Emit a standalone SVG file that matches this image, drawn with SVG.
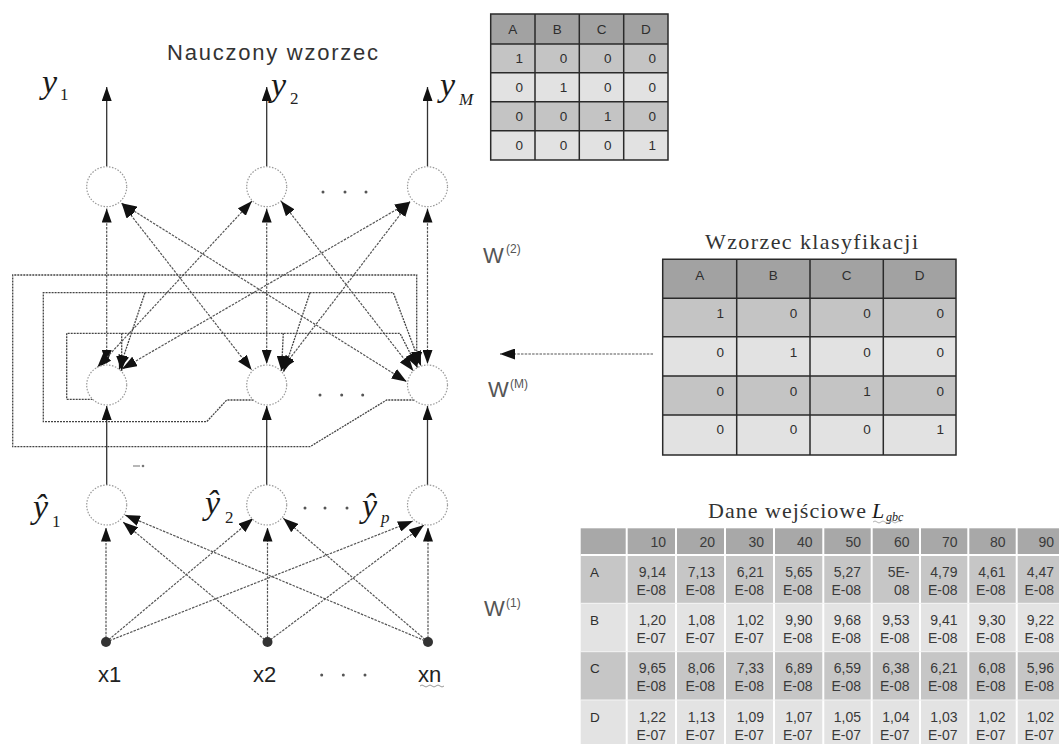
<svg xmlns="http://www.w3.org/2000/svg" width="1059" height="744" viewBox="0 0 1059 744">
  <defs>
    <marker id="ah" viewBox="0 0 14 10" refX="14" refY="5" markerWidth="14" markerHeight="10" markerUnits="userSpaceOnUse" orient="auto-start-reverse">
      <path d="M0,0 L14,5 L0,10 z" fill="#111"/>
    </marker>
    <marker id="ahL" viewBox="0 0 15 11" refX="15" refY="5.5" markerWidth="15" markerHeight="11" markerUnits="userSpaceOnUse" orient="auto-start-reverse">
      <path d="M0,0 L15,5.5 L0,11 z" fill="#111"/>
    </marker>
    <style>
      .sv { stroke: #333; stroke-width: 1.3; fill: none; }
      .ln { stroke: #555; stroke-width: 1.2; fill: none; stroke-dasharray: 2.5 1.2; }
      .lp { stroke: #444; stroke-width: 1.3; fill: none; stroke-dasharray: 2 1; }
      .neuron { fill: #fff; stroke: #999; stroke-width: 1.2; stroke-dasharray: 1.5 1.5; }
      .dot { fill: #555; }
      .in { fill: #333; }
      .sans { font-family: "Liberation Sans", Arial, sans-serif; }
      .serif { font-family: "Liberation Serif", "Times New Roman", serif; }
      .var { font-family: "Liberation Serif", "Times New Roman", serif; font-style: italic; fill: #1a1a1a; }
      .wl { font-family: "Liberation Sans", Arial, sans-serif; fill: #555; }
      .grid { stroke: #2a2a2a; stroke-width: 1.5; fill: none; }
      .hdr { fill: #a2a2a2; }
      .mid { fill: #c4c4c4; }
      .lite { fill: #e2e2e2; }
      .tc { font-family: "Liberation Sans", Arial, sans-serif; font-size: 13.5px; fill: #2e2e2e; }
      .bt { font-family: "Liberation Sans", Arial, sans-serif; font-size: 14px; fill: #3a3a3a; text-anchor: end; }
    </style>
  </defs>

  <rect width="1059" height="744" fill="#fff"/>

  <!-- connectors -->
  <g id="connectors">
    <!-- outputs y1..yM -->
    <path class="sv" d="M106.7,166 V87" marker-end="url(#ah)"/>
    <path class="sv" d="M266.7,166 V87" marker-end="url(#ah)"/>
    <path class="sv" d="M427.5,166 V87" marker-end="url(#ah)"/>

    <!-- W(2): vertical links between MAXNET and output layer -->
    <path class="ln" d="M106.7,208.5 V364" marker-start="url(#ah)" marker-end="url(#ah)"/>
    <path class="ln" d="M266.7,208.5 V364" marker-start="url(#ah)" marker-end="url(#ah)"/>
    <path class="ln" d="M427.5,208.5 V364" marker-start="url(#ah)" marker-end="url(#ah)"/>

    <!-- W(2): crossed links -->
    <path class="ln" d="M121.7,203.3 L251.7,370" marker-start="url(#ahL)" marker-end="url(#ahL)"/>
    <path class="ln" d="M121.7,203.3 L406.7,381.7" marker-start="url(#ahL)" marker-end="url(#ahL)"/>
    <path class="ln" d="M252,201 L97,368" marker-start="url(#ahL)" marker-end="url(#ahL)"/>
    <path class="ln" d="M281,201 L413.4,370.9" marker-start="url(#ahL)" marker-end="url(#ahL)"/>
    <path class="ln" d="M410,201.7 L122,369" marker-start="url(#ahL)" marker-end="url(#ahL)"/>
    <path class="ln" d="M410,201.7 L281,370" marker-start="url(#ahL)" marker-end="url(#ahL)"/>

    <!-- W(M): feedback loops of the MAXNET layer -->
    <path class="lp" d="M92.7,399.3 H66.7 V333.3 H400 L417.5,367.7" marker-end="url(#ahL)"/>
    <path class="lp" d="M121.7,333.3 V371" marker-end="url(#ahL)"/>
    <path class="lp" d="M283.3,333.3 L281.5,371" marker-end="url(#ahL)"/>

    <path class="lp" d="M253.5,400 H226.7 L206.7,421.7 H43.3 V292.7 H393.3 L421,366" marker-end="url(#ahL)"/>
    <path class="lp" d="M145,292.7 L119,370" marker-end="url(#ahL)"/>
    <path class="lp" d="M310,292.7 L283.5,372" marker-end="url(#ahL)"/>

    <path class="lp" d="M414.3,400 H386.7 L310,446.7 H12.7 V275 H416.7 V367" marker-end="url(#ahL)"/>

    <!-- hidden layer to MAXNET -->
    <path class="sv" d="M106.7,485 V406" marker-end="url(#ah)"/>
    <path class="sv" d="M266.7,485 V406" marker-end="url(#ah)"/>
    <path class="sv" d="M427.5,485 V406" marker-end="url(#ah)"/>

    <!-- W(1): inputs to hidden layer -->
    <path class="ln" d="M106,638 V527.5" marker-end="url(#ah)"/>
    <path class="ln" d="M267.5,638 V527.5" marker-end="url(#ah)"/>
    <path class="ln" d="M428,638 V527.5" marker-end="url(#ah)"/>
    <path class="ln" d="M106,642 L253.3,518.3" marker-end="url(#ahL)"/>
    <path class="ln" d="M106,642 L413,521" marker-end="url(#ahL)"/>
    <path class="ln" d="M267.5,642 L123,522" marker-end="url(#ahL)"/>
    <path class="ln" d="M267.5,642 L424,525" marker-end="url(#ahL)"/>
    <path class="ln" d="M428,642 L125,515" marker-end="url(#ahL)"/>
    <path class="ln" d="M428,642 L283.3,518.3" marker-end="url(#ahL)"/>

    <!-- class pattern fed into W(M) -->
    <path class="ln" d="M653,354 H500" marker-end="url(#ahL)"/>
  </g>

  <!-- output layer -->
  <g id="out1"><circle class="neuron" cx="106.7" cy="186.7" r="20"/></g>
  <g id="out2"><circle class="neuron" cx="266.7" cy="186.7" r="20"/></g>
  <g id="outM"><circle class="neuron" cx="427.5" cy="186.7" r="20"/></g>
  <g id="out-dots"><circle class="dot" cx="323" cy="192" r="1.5"/><circle class="dot" cx="345" cy="192" r="1.5"/><circle class="dot" cx="366" cy="192" r="1.5"/></g>

  <!-- MAXNET layer -->
  <g id="max1"><circle class="neuron" cx="106.7" cy="385" r="20"/></g>
  <g id="max2"><circle class="neuron" cx="266.7" cy="385" r="20"/></g>
  <g id="maxM"><circle class="neuron" cx="427.5" cy="385" r="20"/></g>
  <g id="max-dots"><circle class="dot" cx="320" cy="395" r="1.5"/><circle class="dot" cx="341.7" cy="395" r="1.5"/><circle class="dot" cx="362.7" cy="395" r="1.5"/></g>

  <!-- hidden (Hamming) layer -->
  <g id="hid1"><circle class="neuron" cx="106.7" cy="505" r="20"/></g>
  <g id="hid2"><circle class="neuron" cx="266.7" cy="505" r="20"/></g>
  <g id="hidP"><circle class="neuron" cx="427.5" cy="505" r="20"/></g>
  <g id="hid-dots"><circle class="dot" cx="305" cy="508" r="1.5"/><circle class="dot" cx="325" cy="508" r="1.5"/><circle class="dot" cx="347" cy="508" r="1.5"/></g>
  <path d="M133,466 h7" stroke="#888" stroke-width="1.2"/>
  <circle cx="143" cy="466" r="1.3" fill="#777"/>

  <!-- input nodes -->
  <g id="in1"><circle class="in" cx="106" cy="642" r="5"/><text class="sans" x="98" y="682" font-size="22" fill="#222">x1</text></g>
  <g id="in2"><circle class="in" cx="267.5" cy="642" r="5"/><text class="sans" x="253" y="682" font-size="22" fill="#222">x2</text></g>
  <g id="inN"><circle class="in" cx="428" cy="642" r="5"/><text class="sans" x="418" y="682" font-size="22" fill="#222">xn</text>
    <path d="M420,686 q2,-2 4,0 t4,0 t4,0 t4,0 t4,0 t4,0" stroke="#999" stroke-width="1" fill="none"/></g>
  <g id="in-dots"><circle class="dot" cx="321.7" cy="675" r="1.5"/><circle class="dot" cx="343.3" cy="675" r="1.5"/><circle class="dot" cx="365" cy="675" r="1.5"/></g>

  <!-- variable labels -->
  <g id="labels-out">
    <text class="var" x="42" y="93" font-size="34">y</text><text class="serif" x="60" y="100" font-size="17" fill="#222">1</text>
    <text class="var" x="271" y="96" font-size="34">y</text><text class="serif" x="290" y="104" font-size="17" fill="#222">2</text>
    <text class="var" x="440" y="96" font-size="34">y</text><text class="var" x="459" y="105" font-size="17">M</text>
  </g>
  <g id="labels-hid">
    <text class="var" x="33" y="518" font-size="34">ŷ</text><text class="serif" x="52" y="527" font-size="17" fill="#222">1</text>
    <text class="var" x="205" y="514" font-size="34">ŷ</text><text class="serif" x="225" y="523" font-size="17" fill="#222">2</text>
    <text class="var" x="362" y="517" font-size="34">ŷ</text><text class="var" x="381" y="523" font-size="17">p</text>
  </g>

  <!-- weight labels -->
  <g id="w2"><text class="wl" x="483" y="263" font-size="22">W</text><text class="wl" x="506" y="253" font-size="12">(2)</text></g>
  <g id="wM"><text class="wl" x="488" y="397" font-size="22">W</text><text class="wl" x="510" y="388" font-size="12">(M)</text></g>
  <g id="w1"><text class="wl" x="484" y="616" font-size="22">W</text><text class="wl" x="506" y="607" font-size="12">(1)</text></g>

  <!-- learned pattern -->
  <g id="learned">
    <text class="sans" x="167" y="60" font-size="22" fill="#333" textLength="211" lengthAdjust="spacing">Nauczony wzorzec</text>
    <rect class="hdr" x="490.7" y="14" width="177.3" height="30"/>
    <rect class="mid" x="490.7" y="44" width="177.3" height="28.7"/>
    <rect class="lite" x="490.7" y="72.7" width="177.3" height="29"/>
    <rect class="mid" x="490.7" y="101.7" width="177.3" height="29"/>
    <rect class="lite" x="490.7" y="130.7" width="177.3" height="29.3"/>
    <path class="grid" d="M490.7,14 H668 V160 H490.7 Z M535,14 V160 M579.3,14 V160 M623.7,14 V160 M490.7,44 H668 M490.7,72.7 H668 M490.7,101.7 H668 M490.7,130.7 H668"/>
    <g class="tc" text-anchor="middle">
      <text x="512.8" y="34">A</text><text x="557.2" y="34">B</text><text x="601.5" y="34">C</text><text x="645.8" y="34">D</text>
    </g>
    <g class="tc" text-anchor="end">
      <text x="523" y="63">1</text><text x="567.3" y="63">0</text><text x="611.6" y="63">0</text><text x="656" y="63">0</text>
      <text x="523" y="92">0</text><text x="567.3" y="92">1</text><text x="611.6" y="92">0</text><text x="656" y="92">0</text>
      <text x="523" y="121">0</text><text x="567.3" y="121">0</text><text x="611.6" y="121">1</text><text x="656" y="121">0</text>
      <text x="523" y="150">0</text><text x="567.3" y="150">0</text><text x="611.6" y="150">0</text><text x="656" y="150">1</text>
    </g>
  </g>

  <!-- classification pattern -->
  <g id="classpattern">
    <text class="serif" x="705" y="249" font-size="22" fill="#333" textLength="213" lengthAdjust="spacing">Wzorzec klasyfikacji</text>
    <rect class="hdr" x="662.7" y="259.3" width="293.3" height="39"/>
    <rect class="mid" x="662.7" y="298.3" width="293.3" height="38.4"/>
    <rect class="lite" x="662.7" y="336.7" width="293.3" height="39.3"/>
    <rect class="mid" x="662.7" y="376" width="293.3" height="39"/>
    <rect class="lite" x="662.7" y="415" width="293.3" height="40"/>
    <path class="grid" d="M662.7,259.3 H956 V455 H662.7 Z M736.7,259.3 V455 M810,259.3 V455 M883.3,259.3 V455 M662.7,298.3 H956 M662.7,336.7 H956 M662.7,376 H956 M662.7,415 H956"/>
    <g class="tc" text-anchor="middle">
      <text x="699.7" y="280">A</text><text x="773.3" y="280">B</text><text x="846.7" y="280">C</text><text x="919.7" y="280">D</text>
    </g>
    <g class="tc" text-anchor="end">
      <text x="724" y="318">1</text><text x="797.3" y="318">0</text><text x="870.7" y="318">0</text><text x="944" y="318">0</text>
      <text x="724" y="356.5">0</text><text x="797.3" y="356.5">1</text><text x="870.7" y="356.5">0</text><text x="944" y="356.5">0</text>
      <text x="724" y="396">0</text><text x="797.3" y="396">0</text><text x="870.7" y="396">1</text><text x="944" y="396">0</text>
      <text x="724" y="434">0</text><text x="797.3" y="434">0</text><text x="870.7" y="434">0</text><text x="944" y="434">1</text>
    </g>
  </g>

  <!-- input data -->
  <g id="inputdata">
    <text class="serif" x="708" y="518" font-size="22" fill="#333" textLength="158" lengthAdjust="spacing">Dane wejściowe</text>
    <text class="var" x="872" y="518" font-size="22" fill="#333">L</text>
    <text class="var" x="886" y="521" font-size="12" fill="#555">gbc</text>
    <path d="M873,522 q2,-2 4,0 t4,0 t4,0 t4,0 t4,0 t4,0 t4,0" stroke="#aaa" stroke-width="0.9" fill="none"/>

    <rect x="580.7" y="528.3" width="485" height="26.7" fill="#a8a8a8"/>
    <rect x="580.7" y="555" width="485" height="48.3" fill="#c6c6c6"/>
    <rect x="580.7" y="603.3" width="485" height="48.4" fill="#e3e3e3"/>
    <rect x="580.7" y="651.7" width="485" height="48.3" fill="#c6c6c6"/>
    <rect x="580.7" y="700" width="485" height="50" fill="#e3e3e3"/>
    <path d="M626.7,528 V750 M676,528 V750 M725,528 V750 M774,528 V750 M823.3,528 V750 M871.7,528 V750 M920,528 V750 M968.3,528 V750 M1016.7,528 V750 M580.7,555 H1066" stroke="#fff" stroke-width="2" fill="none"/>
    <path d="M580.7,603.3 H1066 M580.7,651.7 H1066 M580.7,700 H1066" stroke="#f4f4f4" stroke-width="1" fill="none"/>

    <g class="bt">
      <text x="666" y="547">10</text><text x="715" y="547">20</text><text x="764" y="547">30</text><text x="812.5" y="547">40</text><text x="861" y="547">50</text><text x="909.5" y="547">60</text><text x="957.5" y="547">70</text><text x="1005.5" y="547">80</text><text x="1054" y="547">90</text>

      <text x="666" y="577">9,14</text><text x="715" y="577">7,13</text><text x="764" y="577">6,21</text><text x="812.5" y="577">5,65</text><text x="861" y="577">5,27</text><text x="909.5" y="577">5E-</text><text x="957.5" y="577">4,79</text><text x="1005.5" y="577">4,61</text><text x="1054" y="577">4,47</text>
      <text x="666" y="595">E-08</text><text x="715" y="595">E-08</text><text x="764" y="595">E-08</text><text x="812.5" y="595">E-08</text><text x="861" y="595">E-08</text><text x="909.5" y="595">08</text><text x="957.5" y="595">E-08</text><text x="1005.5" y="595">E-08</text><text x="1054" y="595">E-08</text>

      <text x="666" y="625">1,20</text><text x="715" y="625">1,08</text><text x="764" y="625">1,02</text><text x="812.5" y="625">9,90</text><text x="861" y="625">9,68</text><text x="909.5" y="625">9,53</text><text x="957.5" y="625">9,41</text><text x="1005.5" y="625">9,30</text><text x="1054" y="625">9,22</text>
      <text x="666" y="643">E-07</text><text x="715" y="643">E-07</text><text x="764" y="643">E-07</text><text x="812.5" y="643">E-08</text><text x="861" y="643">E-08</text><text x="909.5" y="643">E-08</text><text x="957.5" y="643">E-08</text><text x="1005.5" y="643">E-08</text><text x="1054" y="643">E-08</text>

      <text x="666" y="673.3">9,65</text><text x="715" y="673.3">8,06</text><text x="764" y="673.3">7,33</text><text x="812.5" y="673.3">6,89</text><text x="861" y="673.3">6,59</text><text x="909.5" y="673.3">6,38</text><text x="957.5" y="673.3">6,21</text><text x="1005.5" y="673.3">6,08</text><text x="1054" y="673.3">5,96</text>
      <text x="666" y="691.3">E-08</text><text x="715" y="691.3">E-08</text><text x="764" y="691.3">E-08</text><text x="812.5" y="691.3">E-08</text><text x="861" y="691.3">E-08</text><text x="909.5" y="691.3">E-08</text><text x="957.5" y="691.3">E-08</text><text x="1005.5" y="691.3">E-08</text><text x="1054" y="691.3">E-08</text>

      <text x="666" y="721.7">1,22</text><text x="715" y="721.7">1,13</text><text x="764" y="721.7">1,09</text><text x="812.5" y="721.7">1,07</text><text x="861" y="721.7">1,05</text><text x="909.5" y="721.7">1,04</text><text x="957.5" y="721.7">1,03</text><text x="1005.5" y="721.7">1,02</text><text x="1054" y="721.7">1,02</text>
      <text x="666" y="739.7">E-07</text><text x="715" y="739.7">E-07</text><text x="764" y="739.7">E-07</text><text x="812.5" y="739.7">E-07</text><text x="861" y="739.7">E-07</text><text x="909.5" y="739.7">E-07</text><text x="957.5" y="739.7">E-07</text><text x="1005.5" y="739.7">E-07</text><text x="1054" y="739.7">E-07</text>
    </g>
    <g class="tc" font-size="14">
      <text x="590" y="577">A</text><text x="590" y="625">B</text><text x="590" y="673.3">C</text><text x="590" y="721.7">D</text>
    </g>
  </g>
</svg>
